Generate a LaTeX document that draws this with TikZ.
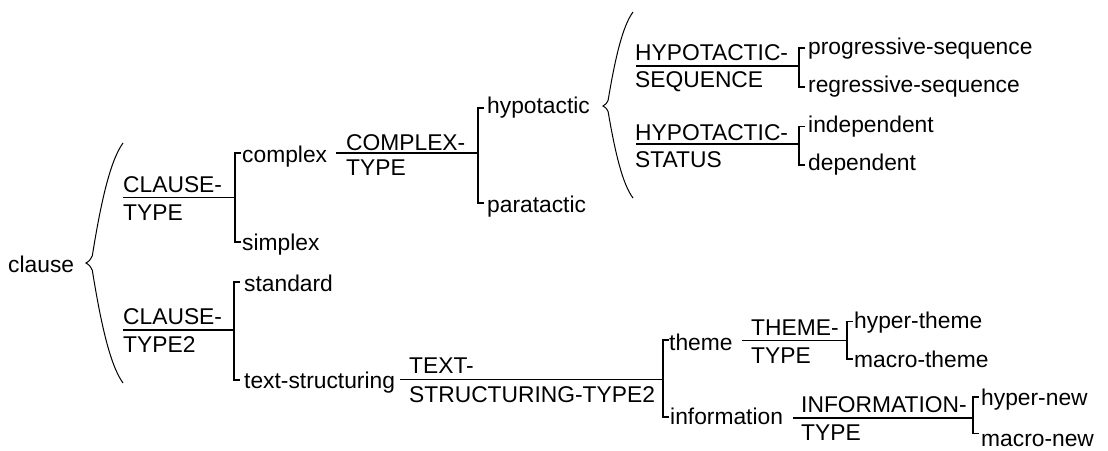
\documentclass[tikz,border=0pt]{standalone}
\usepackage{fontspec}
\setmainfont{Liberation Sans}

% one system: entry line, junction on the bracket, bracket with two ticks
\newcommand\SysLink[6]{% #1 name, #2 entry x, #3 line y, #4 bracket x, #5 top tick y, #6 bottom tick y
  \coordinate (#1-in) at (#2,#3);
  \coordinate (#1-v) at (#4,#3);
  \coordinate (#1-t) at (#4+6,#5);
  \coordinate (#1-b) at (#4+6,#6);
  \draw[wire] (#1-in) -- (#1-v);
  \draw[wire] (#1-t) -- (#1-t -| #1-v) -- (#1-b -| #1-v) -- (#1-b);
}

\begin{document}
\begin{tikzpicture}[x=1pt,y=-1pt,
  every node/.style={inner sep=0pt, anchor=base west,
    font=\fontsize{22.8}{27}\selectfont},
  wire/.style={line width=1.2pt},
  curly/.style={line width=1pt}]
\useasboundingbox (0,0) rectangle (1108,450);

% ---- terms ----
\node (clause) at (8,272) {clause};

\node (ct1) at (123,192) {CLAUSE-};
\node (ct2) at (123,220) {TYPE};
\node (complex) at (242,162) {complex};
\node (simplex) at (242,250) {simplex};

\node (cx1) at (346,150) {COMPLEX-};
\node (cx2) at (346,175) {TYPE};
\node (hypo) at (487,113) {hypotactic};
\node (para) at (487,212) {paratactic};

\node (hs1) at (635,60) {HYPOTACTIC-};
\node (hs2) at (635,87) {SEQUENCE};
\node (prog) at (808,54) {progressive-sequence};
\node (regr) at (808,92) {regressive-sequence};

\node (hst1) at (635,140) {HYPOTACTIC-};
\node (hst2) at (635,167) {STATUS};
\node (indep) at (808,132) {independent};
\node (dep) at (808,170) {dependent};

\node (ctb1) at (123,324) {CLAUSE-};
\node (ctb2) at (123,352) {TYPE2};
\node (std) at (244,291) {standard};
\node (ts) at (244,388) {text-structuring};

\node (tst1) at (409,373) {TEXT-};
\node (tst2) at (409,402) {STRUCTURING-TYPE2};
\node (theme) at (669,350) {theme};
\node (info) at (670,424) {information};

\node (tht1) at (751,335) {THEME-};
\node (tht2) at (751,363) {TYPE};
\node (hth) at (854,328) {hyper-theme};
\node (mth) at (854,367) {macro-theme};

\node (it1) at (801,412) {INFORMATION-};
\node (it2) at (801,440) {TYPE};
\node (hnew) at (981,405) {hyper-new};
\node (mnew) at (981,446) {macro-new};

% ---- systems ----
\SysLink{ct}{123}{197.5}{235}{153}{242}
\SysLink{cx}{336}{153}{478}{108}{203}
\SysLink{hs}{636}{66}{799}{48}{87}
\SysLink{hst}{636}{144}{799}{126.5}{165}
\SysLink{ctb}{123}{330}{234}{282}{380}
\SysLink{tst}{400}{379.5}{663}{340}{417}
\SysLink{tht}{742}{340.5}{847}{321.5}{359}
\SysLink{it}{793}{418}{973}{397}{433.5}

% ---- simultaneous entry braces ----
\coordinate (ba-top) at (123,143);
\coordinate (ba-tip) at (86,263);
\coordinate (ba-bot) at (123,383);
\draw[curly] (ba-top) .. controls (110,161) and (100.8,203) .. (92.3,255.8)
  .. controls (89.7,260.6) .. (ba-tip)
  .. controls (89.7,265.4) .. (92.3,270.2)
  .. controls (100.8,323) and (110,365) .. (ba-bot);

\coordinate (bb-top) at (633,12);
\coordinate (bb-tip) at (603,106);
\coordinate (bb-bot) at (633,198);
\draw[curly] (bb-top) .. controls (622.5,26.1) and (615,59) .. (608.1,100.4)
  .. controls (606,104.1) .. (bb-tip)
  .. controls (606,107.8) .. (608.1,111.5)
  .. controls (615,152) and (622.5,184.2) .. (bb-bot);
\end{tikzpicture}
\end{document}
